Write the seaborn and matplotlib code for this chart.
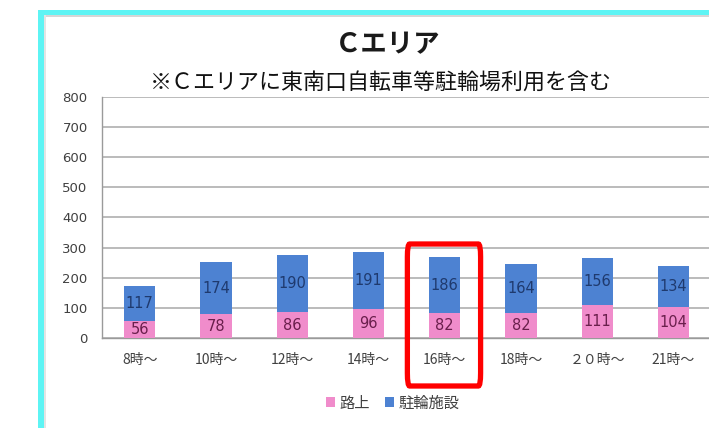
import matplotlib
matplotlib.use("Agg")
import matplotlib.pyplot as plt
from matplotlib.patches import Rectangle, FancyBboxPatch, Patch
from matplotlib.transforms import blended_transform_factory
import numpy as np
import pandas as pd
import seaborn as sns

# Parking counts by time slot (C area)
time_slots = ["8時～", "10時～", "12時～", "14時～", "16時～", "18時～", "２０時～", "21時～"]
street = [56, 78, 86, 96, 82, 82, 111, 104]          # 路上
facility = [117, 174, 190, 191, 186, 164, 156, 134]  # 駐輪施設
series_names = ["路上", "駐輪施設"]
y_ticks = [0, 100, 200, 300, 400, 500, 600, 700, 800]
highlight_slot = "16時～"

title_text = "Ｃエリア"
subtitle_text = "※Ｃエリアに東南口自転車等駐輪場利用を含む"

PINK = "#f08ccb"
BLUE = "#4d82d2"

sns.set_style("white")
plt.rcParams["font.family"] = ["Noto Sans CJK JP", "DejaVu Sans"]

df = pd.DataFrame({"slot": time_slots, "street": street, "facility": facility})
df["total"] = df["street"] + df["facility"]

fig = plt.figure(figsize=(7.09, 4.28), dpi=100)
fig.patch.set_facecolor("white")
ax = fig.add_axes([0.1432, 0.2103, 0.8606, 0.5631])

# Stacked bars: full stack in blue, street share overlaid in pink
sns.barplot(data=df, x="slot", y="total", color=BLUE, saturation=1,
            width=0.41, ax=ax, zorder=3, linewidth=0, edgecolor="none")
sns.barplot(data=df, x="slot", y="street", color=PINK, saturation=1,
            width=0.41, ax=ax, zorder=4, linewidth=0, edgecolor="none")

ax.set_xlim(-0.5, len(time_slots) - 0.5)
ax.set_ylim(0, 800)
ax.set_yticks(y_ticks)
ax.set_xlabel("")
ax.set_ylabel("")

# Segment value labels
for i, (s, f) in enumerate(zip(street, facility)):
    ax.text(i, s / 2, f"{s}", ha="center", va="center", fontsize=10.5,
            color="#6a1f4c", zorder=5, family=["DejaVu Sans"])
    ax.text(i, s + f / 2, f"{f}", ha="center", va="center", fontsize=10.5,
            color="#1f3a6e", zorder=5, family=["DejaVu Sans"])

# Grid and axes styling
ax.yaxis.grid(True, color="#a8a8a8", linewidth=1.1, zorder=0)
ax.set_axisbelow(True)
for side in ["top", "right"]:
    ax.spines[side].set_visible(False)
ax.spines["left"].set_color("#9a9a9a")
ax.spines["bottom"].set_color("#9a9a9a")
ax.spines["left"].set_linewidth(1.0)
ax.spines["bottom"].set_linewidth(1.0)

ax.tick_params(axis="y", which="major", length=4, width=1, color="#9a9a9a",
               pad=6, labelsize=9.5, labelcolor="#404040")
ax.tick_params(axis="x", which="major", length=0, pad=11, labelsize=10,
               labelcolor="#404040")
ax.set_xticks(np.arange(-0.5, len(time_slots) + 0.5, 1), minor=True)
ax.tick_params(axis="x", which="minor", length=5, width=1, color="#9a9a9a")
for lab in ax.get_yticklabels():
    lab.set_family(["DejaVu Sans"])

# Titles
fig.text(0.547, 0.895, title_text, ha="center", va="center", fontsize=19,
         fontweight="bold", color="#1a1a1a")
fig.text(0.537, 0.806, subtitle_text, ha="center", va="center", fontsize=15.8,
         color="#111111")

# Legend
handles = [Patch(facecolor=PINK, edgecolor="none"), Patch(facecolor=BLUE, edgecolor="none")]
fig.legend(handles, series_names, loc="center", bbox_to_anchor=(0.554, 0.058),
           ncol=2, frameon=False, fontsize=11, handlelength=0.6, handleheight=0.6,
           handletextpad=0.3, columnspacing=1.0, labelcolor="#404040")

# Highlight frame around one time slot
hi = time_slots.index(highlight_slot)
trans = blended_transform_factory(ax.transData, fig.transFigure)
frame = FancyBboxPatch((hi - 0.49, 1 - 386 / 428), 0.96, (386 - 244) / 428,
                       boxstyle="round,pad=0,rounding_size=0.03",
                       transform=trans, fill=False, edgecolor="#ff0000",
                       linewidth=3.8, clip_on=False, zorder=10)
fig.add_artist(frame)

# Cyan page border (top and left) with a faint inner shadow
fig.add_artist(Rectangle((38 / 709, 0), 6 / 709, 1 - 10 / 428, transform=fig.transFigure,
                         facecolor="#5ef4f4", edgecolor="none", zorder=20))
fig.add_artist(Rectangle((38 / 709, 1 - 15 / 428), 1, 5 / 428, transform=fig.transFigure,
                         facecolor="#5ef4f4", edgecolor="none", zorder=20))
fig.add_artist(Rectangle((44 / 709, 1 - 17 / 428), 1, 2 / 428, transform=fig.transFigure,
                         facecolor="#d6d6d6", edgecolor="none", zorder=19))
fig.add_artist(Rectangle((44 / 709, 0), 2 / 709, 1 - 15 / 428, transform=fig.transFigure,
                         facecolor="#e4e4e4", edgecolor="none", zorder=19))

fig.savefig("out.png", dpi=100, facecolor="white")
